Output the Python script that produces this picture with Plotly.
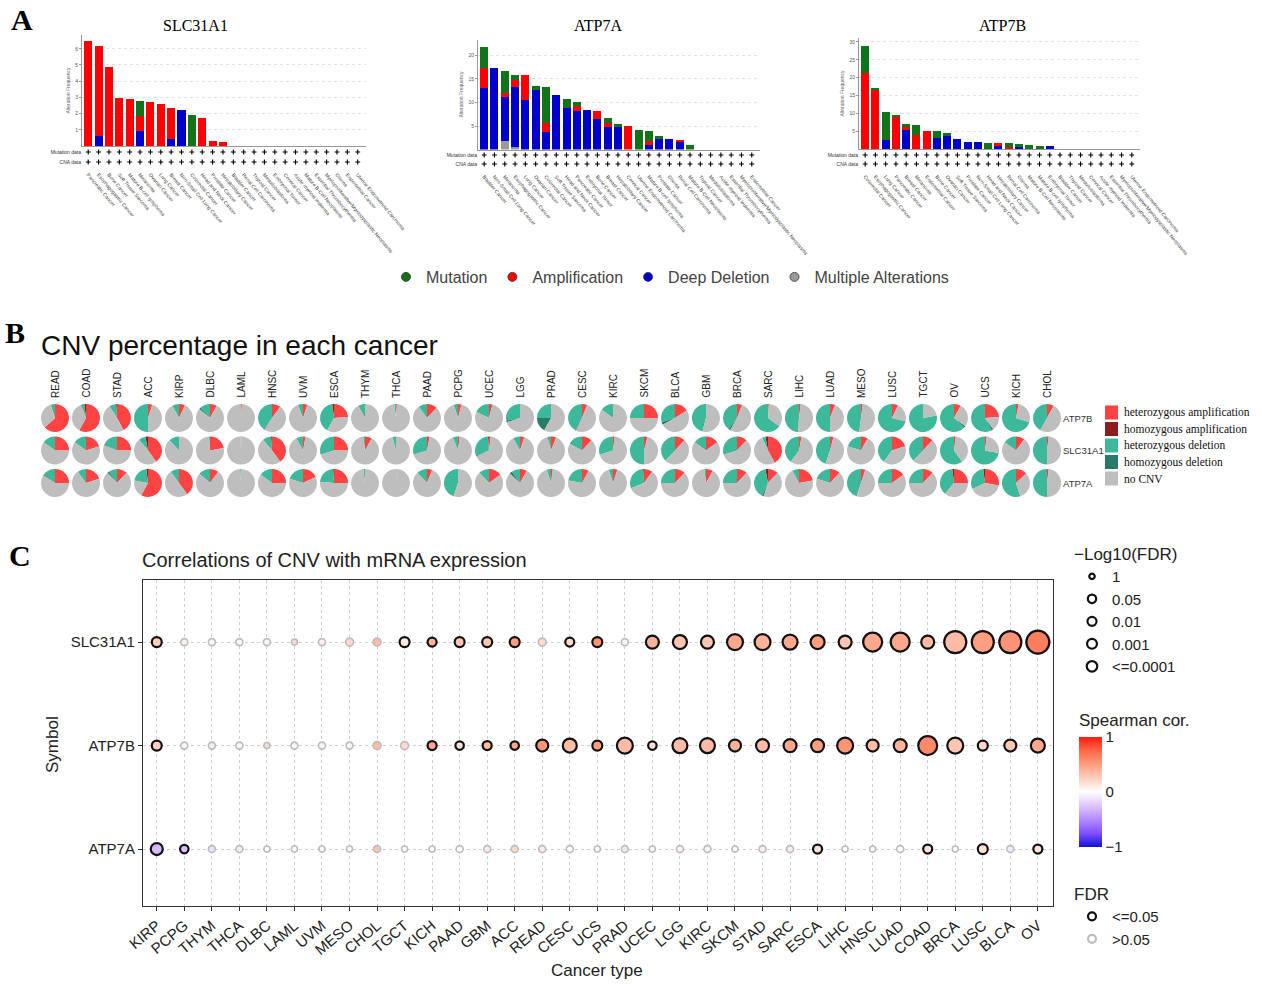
import plotly.graph_objects as go
import numpy as np

W, H = 1262, 984
def fx(p): return p / W
def fy(p): return 1 - p / H

SANS = "Liberation Sans, Arial, sans-serif"
SERIF = "Liberation Serif, Times New Roman, serif"

# ---------------- Panel A data (alteration frequency, %) ----------------
slc_cancers = ["Pancreatic Cancer", "Esophagogastric Cancer", "Bone Cancer", "Soft Tissue Sarcoma",
               "Mature B-cell lymphoma", "Melanoma", "Ovarian Cancer", "Lung Cancer", "Breast Cancer",
               "Non-Small Cell Lung Cancer", "Colorectal Cancer", "Head and Neck Cancer", "Prostate Cancer",
               "Hepatobiliary Cancer", "Bladder Cancer", "Renal Cell Carcinoma", "Thyroid Cancer",
               "Medulloblastoma", "Embryonal Tumor", "Cervical Cancer", "Acute myeloid leukemia",
               "Mature B-Cell Neoplasms", "Essential Thrombocythemia",
               "Myeloproliferative/Myelodysplastic Neoplasms", "Glioma", "Endometrial Cancer",
               "Uterine Endometrioid Carcinoma"]
slc_mut = [0, 0, 0, 0, 0, 0.95, 0, 0, 0, 0, 1.9, 0, 0, 0, 0, 0, 0, 0, 0, 0, 0, 0, 0, 0, 0, 0, 0]
slc_amp = [6.5, 5.55, 4.9, 2.95, 2.9, 0.95, 2.72, 2.62, 1.9, 0, 0, 1.75, 0.33, 0.25, 0, 0, 0, 0, 0, 0, 0, 0, 0, 0, 0, 0, 0]
slc_del = [0, 0.6, 0, 0, 0, 0.9, 0, 0, 0.45, 2.2, 0, 0, 0, 0, 0, 0, 0, 0, 0, 0, 0, 0, 0, 0, 0, 0, 0]
slc_multi = [0, 0, 0, 0, 0, 0, 0, 0, 0, 0, 0, 0, 0, 0, 0, 0, 0, 0, 0, 0, 0, 0, 0, 0, 0, 0, 0]

atp7a_cancers = ["Bladder Cancer", "Non-Small Cell Lung Cancer", "Melanoma", "Esophagogastric Cancer",
                 "Lung Cancer", "Ovarian Cancer", "Colorectal Cancer", "Soft Tissue Sarcoma",
                 "Head and Neck Cancer", "Pancreatic Cancer", "Embryonal Tumor", "Bone Cancer",
                 "Breast Cancer", "Hepatobiliary Cancer", "Cervical Cancer", "Uterine Endometrioid Carcinoma",
                 "Mature B-cell lymphoma", "Prostate Cancer", "Glioma", "Renal Cell Carcinoma",
                 "Mature B-Cell Neoplasms", "Thyroid Cancer", "Medulloblastoma", "Acute myeloid leukemia",
                 "Essential Thrombocythemia", "Myeloproliferative/Myelodysplastic Neoplasms",
                 "Endometrial Cancer"]
atp7a_mut = [4.4, 0, 4.7, 1.2, 0, 0.9, 7.7, 0, 1.8, 0.7, 0, 0, 1.0, 0.8, 0, 4.1, 2.0, 0.4, 0, 0, 1.0, 0, 0, 0, 0, 0, 0]
atp7a_amp = [4.4, 0, 0.9, 1.3, 5.3, 0, 1.9, 0, 0, 1.2, 0, 1.6, 0.9, 0, 5.0, 0, 1.0, 0, 0, 0.6, 0, 0, 0, 0, 0, 0, 0]
atp7a_del = [13.0, 17.4, 9.4, 12.8, 10.5, 12.7, 3.8, 11.7, 8.9, 8.1, 8.4, 6.5, 4.7, 4.7, 0, 0, 0.9, 2.5, 2.2, 1.5, 0, 0, 0, 0, 0, 0, 0]
atp7a_multi = [0, 0, 1.8, 0.6, 0, 0, 0, 0, 0, 0, 0, 0, 0, 0, 0, 0, 0, 0, 0, 0, 0, 0, 0, 0, 0, 0, 0]

atp7b_cancers = ["Colorectal Cancer", "Esophagogastric Cancer", "Lung Cancer", "Pancreatic Cancer",
                 "Breast Cancer", "Melanoma", "Endometrial Cancer", "Bone Cancer", "Ovarian Cancer",
                 "Soft Tissue Sarcoma", "Prostate Cancer", "Non-Small Cell Lung Cancer",
                 "Head and Neck Cancer", "Hepatobiliary Cancer", "Renal Cell Carcinoma", "Glioma",
                 "Mature B-Cell Neoplasms", "Mature B-cell lymphoma", "Embryonal Tumor", "Bladder Cancer",
                 "Thyroid Cancer", "Medulloblastoma", "Cervical Cancer", "Acute myeloid leukemia",
                 "Essential Thrombocythemia", "Myeloproliferative/Myelodysplastic Neoplasms",
                 "Uterine Endometrioid Carcinoma"]
atp7b_mut = [7.7, 0.6, 7.9, 0.4, 0.9, 2.8, 0, 1.8, 0.8, 0, 0, 0, 1.8, 0, 1.1, 0.7, 1.0, 0.9, 0, 0, 0, 0, 0, 0, 0, 0, 0]
atp7b_amp = [21.2, 16.6, 0, 9.0, 0.9, 3.8, 5.0, 0, 0, 0, 0, 0, 0, 0.5, 0.5, 0, 0, 0, 0, 0, 0, 0, 0, 0, 0, 0, 0]
atp7b_del = [0, 0, 2.6, 0, 5.3, 0, 0, 3.2, 3.7, 2.9, 2.1, 2.1, 0, 1.1, 0, 0.7, 0, 0, 0.8, 0, 0, 0, 0, 0, 0, 0, 0]
atp7b_multi = [0, 0, 0, 0, 0, 0, 0, 0, 0, 0, 0, 0, 0, 0, 0, 0, 0, 0, 0, 0, 0, 0, 0, 0, 0, 0, 0]

alt_names = ["Mutation", "Amplification", "Deep Deletion", "Multiple Alterations"]
alt_colors = ["#11731A", "#FF0000", "#0000CC", "#9A9A9A"]

# ---------------- Panel B data (CNV %, READ..CHOL) ----------------
pie_cancers = ["READ", "COAD", "STAD", "ACC", "KIRP", "DLBC", "LAML", "HNSC", "UVM", "ESCA", "THYM",
               "THCA", "PAAD", "PCPG", "UCEC", "LGG", "PRAD", "CESC", "KIRC", "SKCM", "BLCA", "GBM",
               "BRCA", "SARC", "LIHC", "LUAD", "MESO", "LUSC", "TGCT", "OV", "UCS", "KICH", "CHOL"]
pie_genes = ["ATP7B", "SLC31A1", "ATP7A"]
cnv_types = ["heterozygous amplification", "homozygous amplification", "heterozygous deletion",
             "homozygous deletion", "no CNV"]
cnv_colors = ["#FF4242", "#8B1E1E", "#3DB89A", "#2A7A69", "#BEBEBE"]

atp7b_hetamp = [63, 58, 42, 5, 7, 8, 1, 10, 5, 24, 0, 1, 12, 4, 4, 0, 0, 6, 0, 25, 16, 0, 6, 1, 2, 6, 2, 7, 0, 8, 24, 3, 8]
atp7b_homamp = [0, 2, 1, 0, 0, 0, 0, 0, 0, 2, 0, 0, 0, 0, 0, 0, 0, 0, 0, 0, 0, 0, 0, 0, 0, 0, 0, 0, 0, 0, 0, 0, 0]
atp7b_hetdel = [5, 3, 8, 50, 8, 12, 0, 40, 6, 40, 8, 2, 10, 5, 18, 28, 25, 42, 15, 25, 30, 46, 40, 65, 48, 50, 48, 70, 78, 63, 58, 70, 42]
atp7b_homdel = [0, 1, 0, 0, 0, 2, 0, 1, 0, 0, 0, 0, 0, 0, 0, 2, 17, 1, 0, 0, 3, 0, 2, 0, 1, 0, 0, 1, 0, 2, 2, 0, 0]

slc_hetamp = [25, 20, 25, 40, 0, 22, 0.5, 40, 3, 25, 8, 0, 3, 2, 2, 5, 6, 12, 2, 4, 12, 15, 12, 42, 3, 4, 8, 20, 12, 2, 2, 10, 2]
slc_homamp = [0, 0, 0, 3, 0, 0, 0, 1, 0, 0, 0, 0, 0, 0, 1, 0, 0, 0, 0, 0, 0, 0, 0, 3, 0, 0, 0, 0, 0, 0, 0, 0, 0]
slc_hetdel = [15, 15, 18, 8, 12, 1, 0.5, 10, 8, 30, 2, 4, 30, 6, 30, 8, 3, 17, 30, 50, 38, 15, 30, 4, 40, 45, 20, 40, 38, 60, 72, 15, 50]
slc_homdel = [0, 0, 1, 0, 0, 0, 0, 0, 0, 0, 0, 0, 0, 0, 1, 0, 1, 0, 0, 0, 0, 0, 0, 0, 0, 0, 0, 0, 0, 0, 0, 0, 0]

atp7a_hetamp = [25, 20, 12, 58, 40, 10, 0, 25, 18, 25, 0, 0.5, 6, 0, 15, 8, 2, 8, 5, 10, 12, 8, 12, 12, 22, 12, 5, 15, 12, 25, 28, 13, 2]
atp7a_homamp = [0, 0, 0, 2, 0, 0, 0, 0, 0, 1, 0, 0, 0, 0, 0, 0, 0, 0, 0, 1, 0, 0, 0, 3, 0, 0, 0, 0, 0, 2, 2, 0, 0]
atp7a_hetdel = [15, 10, 10, 20, 10, 12, 1, 15, 20, 23, 2, 0, 12, 45, 12, 10, 5, 22, 5, 30, 25, 2, 25, 40, 8, 20, 45, 25, 25, 37, 30, 55, 50]
atp7a_homdel = [1, 0, 2, 0, 0, 1, 0, 0, 0, 0, 0, 0, 0, 0, 0, 3, 0, 0, 0, 0, 0, 0, 0, 2, 0, 0, 0, 0, 0, 0, 0, 0, 0]

# ---------------- Panel C data ----------------
c_cancers = ["KIRP", "PCPG", "THYM", "THCA", "DLBC", "LAML", "UVM", "MESO", "CHOL", "TGCT", "KICH",
             "PAAD", "GBM", "ACC", "READ", "CESC", "UCS", "PRAD", "UCEC", "LGG", "KIRC", "SKCM", "STAD",
             "SARC", "ESCA", "LIHC", "HNSC", "LUAD", "COAD", "BRCA", "LUSC", "BLCA", "OV"]
c_genes = ["ATP7A", "ATP7B", "SLC31A1"]
slc_cor = [0.25, 0.08, 0.05, 0.05, 0.05, 0.2, 0.08, 0.2, 0.35, 0.12, 0.4, 0.3, 0.3, 0.5, 0.2, 0.2, 0.55,
           0.05, 0.4, 0.3, 0.3, 0.45, 0.4, 0.45, 0.5, 0.3, 0.45, 0.45, 0.35, 0.35, 0.5, 0.55, 0.65]
slc_nlfdr = [3.2, 0.36, 0.36, 0.36, 0.36, 0.05, 0.36, 1.0, 1.0, 3.2, 2.0, 3.2, 3.2, 3.2, 1.0, 2.0, 3.2,
             0.36, 9.0, 11.6, 9.0, 17.6, 17.6, 14.4, 11.6, 9.0, 29, 29, 9.0, 44, 44, 44, 49]
atp7b_cor = [0.25, 0.05, 0.1, 0.05, 0.2, 0.05, 0.05, 0.05, 0.35, 0.2, 0.45, 0.15, 0.35, 0.45, 0.55, 0.35,
             0.5, 0.35, 0.15, 0.35, 0.35, 0.4, 0.35, 0.45, 0.5, 0.55, 0.35, 0.4, 0.6, 0.3, 0.2, 0.3, 0.45]
atp7b_nlfdr = [3.2, 0.36, 0.36, 0.36, 0.05, 0.36, 0.36, 0.36, 1.0, 1.0, 2.0, 1.4, 2.0, 1.4, 6.8, 11.6, 3.2,
               17.6, 1.4, 14.4, 14.4, 6.8, 9.0, 9.0, 9.0, 17.6, 6.8, 9.0, 29, 17.6, 3.2, 6.8, 11.6]
atp7a_cor = [-0.3, -0.25, -0.12, -0.08, 0, 0, 0, 0, 0.3, 0, 0, 0, 0.1, 0.2, 0.1, 0, 0, -0.1, 0, 0.05,
             -0.05, 0, 0.08, 0.1, 0.15, 0, 0, 0, 0.15, 0, 0.15, -0.1, 0.15]
atp7a_nlfdr = [6.8, 1.4, 0.36, 0.36, 0.05, 0.05, 0.05, 0.05, 0.36, 0.05, 0.05, 0.36, 0.36, 0.36, 0.36, 0.36,
               0.05, 0.36, 0.05, 0.36, 0.36, 0.05, 0.36, 0.36, 2.0, 0.05, 0.05, 0.36, 2.0, 0.05, 3.2, 0.36, 2.0]
size_legend_fdr = [1, 0.05, 0.01, 0.001, 0.0001]
size_legend_labels = ["1", "0.05", "0.01", "0.001", "<=0.0001"]
fdr_legend_labels = ["<=0.05", ">0.05"]

def bubble_size(v):
    return 5.5 + 2.5 * np.sqrt(np.asarray(v, dtype=float))

cor_scale = [[0.0, "#1010D8"], [0.125, "#7E51FF"], [0.25, "#B38BFF"], [0.375, "#DCC5FF"],
             [0.5, "#FFFFFF"], [0.625, "#FFCFBF"], [0.75, "#FF9E81"], [0.875, "#FF6846"], [1.0, "#FF1A10"]]

fig = go.Figure()
layout = dict(width=W, height=H, margin=dict(l=0, r=0, t=0, b=0, autoexpand=False),
              paper_bgcolor="white", plot_bgcolor="white", showlegend=True,
              font=dict(family=SANS, color="#222"), barmode="stack", bargap=0.22)
annotations = []
shapes = []

# ---------------- Panel A ----------------
panels = [
    dict(name="SLC31A1", cats=slc_cancers, multi=slc_multi, dele=slc_del, amp=slc_amp, mut=slc_mut,
         x0=82, x1=366, top=35, base=146, ymax=6.85, ticks=[1, 2, 3, 4, 5, 6], pt=147, pb=170, ym=152, yc=162, tx=195),
    dict(name="ATP7A", cats=atp7a_cancers, multi=atp7a_multi, dele=atp7a_del, amp=atp7a_amp, mut=atp7a_mut,
         x0=478, x1=760, top=39.5, base=149.5, ymax=23.4, ticks=[5, 10, 15, 20], pt=150, pb=172, ym=155, yc=164, tx=598),
    dict(name="ATP7B", cats=atp7b_cancers, multi=atp7b_multi, dele=atp7b_del, amp=atp7b_amp, mut=atp7b_mut,
         x0=859, x1=1140, top=38, base=149, ymax=31.1, ticks=[5, 10, 15, 20, 25, 30], pt=150, pb=172, ym=155, yc=164, tx=1003),
]
for i, p in enumerate(panels):
    kb, kp = 2 * i + 1, 2 * i + 2
    xb = "x" if kb == 1 else f"x{kb}"
    yb = "y" if kb == 1 else f"y{kb}"
    xp, yp = f"x{kp}", f"y{kp}"
    for vals, nm, col in [(p["multi"], alt_names[3], alt_colors[3]), (p["dele"], alt_names[2], alt_colors[2]),
                          (p["amp"], alt_names[1], alt_colors[1]), (p["mut"], alt_names[0], alt_colors[0])]:
        fig.add_trace(go.Bar(x=p["cats"], y=vals, marker=dict(color=col, line=dict(width=0)),
                             name=nm, showlegend=False, xaxis=xb, yaxis=yb))
    for row in ["Mutation data", "CNA data"]:
        fig.add_trace(go.Scatter(x=p["cats"], y=[row] * len(p["cats"]), mode="markers",
                                 marker=dict(symbol="cross-thin", size=3.5, line=dict(width=1.1, color="black")),
                                 showlegend=False, xaxis=xp, yaxis=yp, hoverinfo="skip"))
    dom_x = [fx(p["x0"]), fx(p["x1"])]
    rng_x = [-0.6, 26.8]
    layout["xaxis" if kb == 1 else f"xaxis{kb}"] = dict(
        domain=dom_x, range=rng_x, type="category", categoryarray=p["cats"], showticklabels=False,
        showline=True, linecolor="#999", linewidth=1.2, ticks="", showgrid=False, anchor=yb,
        automargin=False)
    layout["yaxis" if kb == 1 else f"yaxis{kb}"] = dict(
        domain=[fy(p["base"]), fy(p["top"])], range=[0, p["ymax"]], tickvals=p["ticks"], ticksuffix="%",
        tickfont=dict(size=5, color="#555"), ticks="outside", ticklen=2, tickcolor="#999",
        showline=True, linecolor="#999", linewidth=1, showgrid=True, gridcolor="#E4E4E4", griddash="dot",
        zeroline=False, anchor=xb, automargin=False,
        title=dict(text="Alteration Frequency", font=dict(size=5, color="#666"), standoff=4))
    u = p["yc"] - p["ym"]
    layout[f"xaxis{kp}"] = dict(
        domain=dom_x, range=rng_x, type="category", categoryarray=p["cats"], showticklabels=True,
        tickangle=50, tickfont=dict(size=5, color="#444"), ticks="", showline=False, showgrid=False,
        anchor=yp, side="bottom", automargin=False)
    layout[f"yaxis{kp}"] = dict(
        domain=[fy(p["pb"]), fy(p["pt"])], type="category", categoryarray=["CNA data", "Mutation data"],
        range=[-(p["pb"] - p["yc"]) / u, 1 + (p["ym"] - p["pt"]) / u], tickfont=dict(size=5, color="#333"),
        ticks="", showline=False, showgrid=False, anchor=xp, automargin=False)
    annotations.append(dict(text=p["name"], x=fx(p["tx"]), y=fy(26), xanchor="center", yanchor="middle",
                            font=dict(family=SERIF, size=16, color="black")))

# panel A legend entries (circle keys)
for nm, col in zip(alt_names, alt_colors):
    fig.add_trace(go.Scatter(x=[None], y=[None], mode="markers", name=nm,
                             marker=dict(size=9, color=col, line=dict(width=0.8, color="#333")),
                             xaxis="x", yaxis="y", legend="legend", showlegend=True))
layout["legend"] = dict(orientation="h", x=fx(386), y=fy(277), xanchor="left", yanchor="middle",
                        font=dict(family=SANS, size=16, color="#444"), bgcolor="rgba(0,0,0,0)",
                        itemwidth=30, tracegroupgap=0, traceorder="normal")

# ---------------- Panel B ----------------
pie_data = {
    "ATP7B": [atp7b_hetamp, atp7b_homamp, atp7b_hetdel, atp7b_homdel],
    "SLC31A1": [slc_hetamp, slc_homamp, slc_hetdel, slc_homdel],
    "ATP7A": [atp7a_hetamp, atp7a_homamp, atp7a_hetdel, atp7a_homdel],
}
col_x0, col_dx = 55, 31.0
row_y0, row_dy = 418, 32.5
rad = 14
for gi, gene in enumerate(pie_genes):
    cy = row_y0 + row_dy * gi
    for ci, cancer in enumerate(pie_cancers):
        cx = col_x0 + col_dx * ci
        parts = [pie_data[gene][k][ci] for k in range(4)]
        vals = parts + [max(0, 100 - sum(parts))]
        fig.add_trace(go.Pie(labels=cnv_types, values=vals, sort=False, direction="counterclockwise",
                             rotation=0, textinfo="none", hoverinfo="label+percent",
                             marker=dict(colors=cnv_colors, line=dict(width=0)),
                             domain=dict(x=[fx(cx - rad), fx(cx + rad)], y=[fy(cy + rad + 1), fy(cy - rad - 1)]),
                             showlegend=False, name=f"{gene} {cancer}"))
    annotations.append(dict(text=gene, x=fx(1061), y=fy(cy), xanchor="left", yanchor="middle",
                            font=dict(family=SANS, size=9.5, color="#333")))
for ci, cancer in enumerate(pie_cancers):
    annotations.append(dict(text=cancer, x=fx(col_x0 + col_dx * ci), y=fy(400),
                            textangle=-90, xanchor="center", yanchor="bottom",
                            font=dict(family=SANS, size=10, color="#222")))
# CNV key (panel B legend)
for k, (lab, col) in enumerate(zip(cnv_types, cnv_colors)):
    yc = 412.5 + 16.5 * k
    shapes.append(dict(type="rect", xref="paper", yref="paper", x0=fx(1105), x1=fx(1118),
                       y0=fy(yc + 7), y1=fy(yc - 7), fillcolor=col, line=dict(width=0)))
    annotations.append(dict(text=lab, x=fx(1122), y=fy(yc), xanchor="left", yanchor="middle",
                            font=dict(family=SERIF, size=11.5, color="#111")))

# ---------------- Panel C ----------------
xs, ys, cs, vs = [], [], [], []
for gene, cor, nl in [("SLC31A1", slc_cor, slc_nlfdr), ("ATP7B", atp7b_cor, atp7b_nlfdr),
                      ("ATP7A", atp7a_cor, atp7a_nlfdr)]:
    xs += c_cancers
    ys += [gene] * len(c_cancers)
    cs += cor
    vs += nl
vs = np.array(vs)
fdr = 10 ** (-vs)
sig = fdr <= 0.05
fig.add_trace(go.Scatter(
    x=xs, y=ys, mode="markers", xaxis="x7", yaxis="y7", showlegend=False,
    marker=dict(size=bubble_size(vs), color=cs, colorscale=cor_scale, cmin=-1, cmax=1,
                line=dict(color=np.where(sig, "#111111", "#BDBDBD").tolist(),
                          width=np.where(sig, 2.2, 1.6).tolist()),
                opacity=1,
                colorbar=dict(x=fx(1079), xanchor="left", y=fy(792), yanchor="middle", len=110,
                              lenmode="pixels", thickness=23, thicknessmode="pixels",
                              tickvals=[-1, 0, 1], ticktext=["−1", "0", "1"], ticks="",
                              tickfont=dict(size=15, color="#222"), outlinewidth=0, xpad=0, ypad=0))))

for lab, f in zip(size_legend_labels, size_legend_fdr):
    fig.add_trace(go.Scatter(x=[None], y=[None], mode="markers", name=lab, xaxis="x7", yaxis="y7",
                             marker=dict(size=float(bubble_size(-np.log10(f))), color="white",
                                         line=dict(color="#111", width=2.2)),
                             legend="legend2", showlegend=True))
for lab, lc in zip(fdr_legend_labels, ["#111111", "#BDBDBD"]):
    fig.add_trace(go.Scatter(x=[None], y=[None], mode="markers", name=lab, xaxis="x7", yaxis="y7",
                             marker=dict(size=8, color="white", line=dict(color=lc, width=2.2)),
                             legend="legend3", showlegend=True))

layout["xaxis7"] = dict(domain=[fx(143), fx(1053)], type="category", categoryarray=c_cancers,
                        range=[-0.5, 32.55], showgrid=True, gridcolor="#CFCFCF", griddash="dot",
                        gridwidth=1, showline=True, mirror=True, linecolor="#333", linewidth=1.2,
                        ticks="outside", ticklen=4, tickcolor="#333", tickangle=-40,
                        tickfont=dict(size=15, color="#222"), anchor="y7", automargin=False)
layout["yaxis7"] = dict(domain=[fy(906), fy(580)], type="category", categoryarray=c_genes,
                        range=[-0.55, 2.6], showgrid=True, gridcolor="#CFCFCF", griddash="dot",
                        gridwidth=1, showline=True, mirror=True, linecolor="#333", linewidth=1.2,
                        ticks="outside", ticklen=4, tickcolor="#333", tickfont=dict(size=15, color="#222"),
                        anchor="x7", automargin=False)
layout["legend2"] = dict(x=fx(1072), y=fy(538), xanchor="left", yanchor="top", itemsizing="trace",
                         title=dict(text="−Log10(FDR)", font=dict(size=17, color="#222")),
                         font=dict(family=SANS, size=15, color="#222"), bgcolor="rgba(0,0,0,0)",
                         tracegroupgap=0, itemwidth=30)
layout["legend3"] = dict(x=fx(1072), y=fy(878), xanchor="left", yanchor="top", itemsizing="trace",
                         title=dict(text="FDR", font=dict(size=17, color="#222")),
                         font=dict(family=SANS, size=15, color="#222"), bgcolor="rgba(0,0,0,0)",
                         tracegroupgap=0, itemwidth=30)

annotations += [
    dict(text="Spearman cor.", x=fx(1077), y=fy(720), xanchor="left", yanchor="middle",
         font=dict(size=17, color="#222")),
    dict(text="Cancer type", x=fx(597), y=fy(970), xanchor="center", yanchor="middle",
         font=dict(size=17, color="#222")),
    dict(text="Symbol", x=fx(52), y=fy(745), textangle=-90, xanchor="center", yanchor="middle",
         font=dict(size=17, color="#222")),
    dict(text="Correlations of CNV with mRNA expression", x=fx(140), y=fy(560), xanchor="left",
         yanchor="middle", font=dict(size=20, color="#222")),
    dict(text="CNV percentage in each cancer", x=fx(39), y=fy(346), xanchor="left", yanchor="middle",
         font=dict(size=28, color="#111")),
    dict(text="<b>A</b>", x=fx(22), y=fy(20), xanchor="center", yanchor="middle",
         font=dict(family=SERIF, size=30, color="black")),
    dict(text="<b>B</b>", x=fx(15), y=fy(333), xanchor="center", yanchor="middle",
         font=dict(family=SERIF, size=30, color="black")),
    dict(text="<b>C</b>", x=fx(20), y=fy(555), xanchor="center", yanchor="middle",
         font=dict(family=SERIF, size=30, color="black")),
]
for a in annotations:
    a.setdefault("xref", "paper")
    a.setdefault("yref", "paper")
    a.setdefault("showarrow", False)
layout["annotations"] = annotations
layout["shapes"] = shapes
fig.update_layout(**layout)
fig.write_html("out.html")
